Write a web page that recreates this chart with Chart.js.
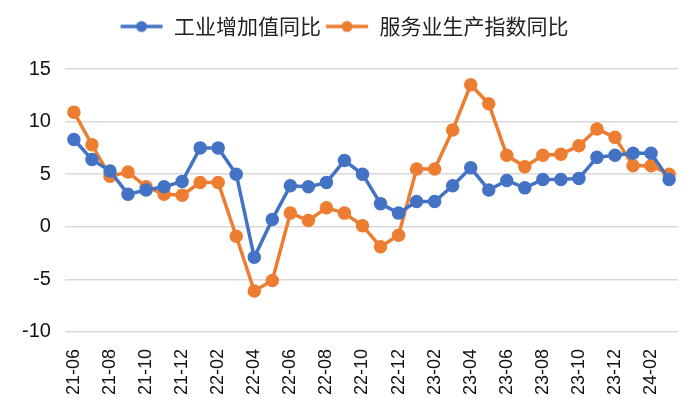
<!DOCTYPE html>
<html>
<head>
<meta charset="utf-8">
<script src="https://cdn.jsdelivr.net/npm/chart.js@4"></script>
<style>
  body { margin: 0; background: #fff; }
  #wrap { width: 700px; height: 420px; }
</style>
</head>
<body>
<div id="wrap"><canvas id="lineChart" width="700" height="420"></canvas></div>
<script>
const months = ['21-06','21-07','21-08','21-09','21-10','21-11','21-12',
  '22-01','22-02','22-03','22-04','22-05','22-06','22-07','22-08','22-09','22-10','22-11','22-12',
  '23-01','23-02','23-03','23-04','23-05','23-06','23-07','23-08','23-09','23-10','23-11','23-12',
  '24-01','24-02','24-03'];
const industry = [8.3, 6.4, 5.3, 3.1, 3.5, 3.8, 4.3, 7.5, 7.5, 5.0, -2.9, 0.7, 3.9, 3.8, 4.2, 6.3, 5.0, 2.2, 1.3,
  2.4, 2.4, 3.9, 5.6, 3.5, 4.4, 3.7, 4.5, 4.5, 4.6, 6.6, 6.8, 7.0, 7.0, 4.5];
const services = [10.9, 7.8, 4.8, 5.2, 3.8, 3.1, 3.0, 4.2, 4.2, -0.9, -6.1, -5.1, 1.3, 0.6, 1.8, 1.3, 0.1, -1.9, -0.8,
  5.5, 5.5, 9.2, 13.5, 11.7, 6.8, 5.7, 6.8, 6.9, 7.7, 9.3, 8.5, 5.8, 5.8, 5.0];
const yTicks = [-10, -5, 0, 5, 10, 15];

const blue = '#4472C4';
const orange = '#ED7D31';

// small line+dot marker for the legend
function legendMarker(color) {
  const c = document.createElement('canvas');
  c.width = 44; c.height = 14;
  const g = c.getContext('2d');
  g.strokeStyle = color; g.lineWidth = 3.5;
  g.beginPath(); g.moveTo(1, 7); g.lineTo(43, 7); g.stroke();
  g.fillStyle = color;
  g.beginPath(); g.arc(22, 7, 5.5, 0, Math.PI * 2); g.fill();
  return c;
}

// extra room under the legend
const legendGap = {
  id: 'legendGap',
  beforeInit(chart) {
    const fit = chart.legend.fit;
    chart.legend.fit = function () {
      fit.call(this);
      this.height += 22;
    };
  }
};

const ctx = document.getElementById('lineChart').getContext('2d');
new Chart(ctx, {
  type: 'line',
  data: {
    labels: months,
    datasets: [{
      label: '工业增加值同比',
      data: industry,
      borderColor: blue,
      backgroundColor: blue,
      borderWidth: 3.5,
      pointRadius: 5,
      pointHoverRadius: 5,
      tension: 0
    }, {
      label: '服务业生产指数同比',
      data: services,
      borderColor: orange,
      backgroundColor: orange,
      borderWidth: 3.5,
      pointRadius: 5,
      pointHoverRadius: 5,
      tension: 0
    }]
  },
  plugins: [legendGap],
  options: {
    responsive: false,
    animation: false,
    layout: { padding: { left: 8, right: 20, top: 12, bottom: 16 } },
    plugins: {
      legend: {
        position: 'top',
        labels: {
          font: { family: '"Noto Sans CJK SC", sans-serif', size: 21 },
          color: '#222',
          usePointStyle: true,
          pointStyleWidth: 44,
          padding: 4,
          generateLabels: chart => chart.data.datasets.map((ds, i) => ({
            text: ds.label,
            fillStyle: ds.borderColor,
            strokeStyle: ds.borderColor,
            pointStyle: legendMarker(ds.borderColor),
            fontColor: '#222',
            datasetIndex: i,
            hidden: false
          }))
        }
      },
      tooltip: { enabled: false }
    },
    scales: {
      x: {
        offset: true,
        grid: { display: false },
        border: { display: false },
        ticks: {
          autoSkip: false,
          minRotation: 90,
          maxRotation: 90,
          padding: 9,
          color: '#111',
          font: { family: '"Liberation Sans", Arial, sans-serif', size: 18 },
          callback: (v, i) => (i % 2 === 0 ? months[i] : '')
        }
      },
      y: {
        min: yTicks[0],
        max: yTicks[yTicks.length - 1],
        afterBuildTicks: axis => { axis.ticks = yTicks.map(v => ({ value: v })); },
        grid: { color: '#d9d9d9', lineWidth: 1.5, drawTicks: false },
        border: { display: false },
        ticks: {
          padding: 14,
          color: '#111',
          font: { family: '"Liberation Sans", Arial, sans-serif', size: 20 }
        }
      }
    }
  }
});
</script>
</body>
</html>
